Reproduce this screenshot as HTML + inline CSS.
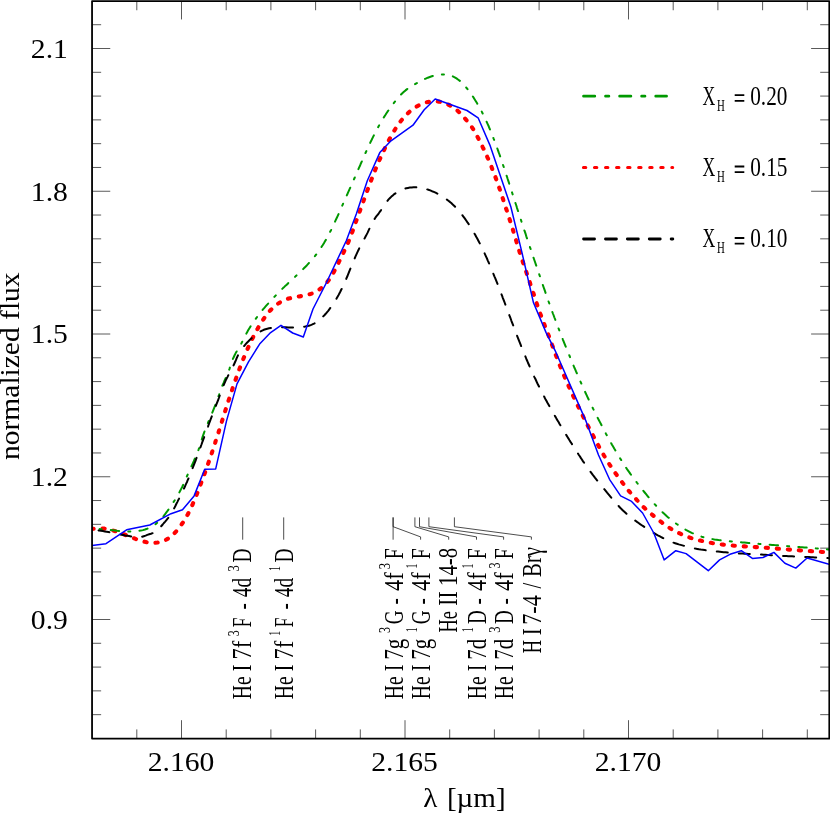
<!DOCTYPE html>
<html><head><meta charset="utf-8"><title>He I / Br gamma line fit</title>
<style>html,body{margin:0;padding:0;background:#fff;width:830px;height:814px;overflow:hidden;}svg{display:block;will-change:transform;}text{font-family:"Liberation Serif",serif;fill:#000;}</style></head><body>
<svg width="830" height="814" viewBox="0 0 830 814">
<rect x="0" y="0" width="830" height="814" fill="#fff"/>
<defs><clipPath id="plot"><rect x="92.05" y="1.05" width="737.25" height="737.55"/></clipPath></defs>
<path d="M136.80,738.60 v-9.20 M136.80,1.05 v9.20 M181.50,738.60 v-18.40 M181.50,1.05 v18.40 M226.20,738.60 v-9.20 M226.20,1.05 v9.20 M270.90,738.60 v-9.20 M270.90,1.05 v9.20 M315.60,738.60 v-9.20 M315.60,1.05 v9.20 M360.30,738.60 v-9.20 M360.30,1.05 v9.20 M405.00,738.60 v-18.40 M405.00,1.05 v18.40 M449.70,738.60 v-9.20 M449.70,1.05 v9.20 M494.40,738.60 v-9.20 M494.40,1.05 v9.20 M539.10,738.60 v-9.20 M539.10,1.05 v9.20 M583.80,738.60 v-9.20 M583.80,1.05 v9.20 M628.50,738.60 v-18.40 M628.50,1.05 v18.40 M673.20,738.60 v-9.20 M673.20,1.05 v9.20 M717.90,738.60 v-9.20 M717.90,1.05 v9.20 M762.60,738.60 v-9.20 M762.60,1.05 v9.20 M807.30,738.60 v-9.20 M807.30,1.05 v9.20 M92.05,714.67 h9.10 M829.30,714.67 h-9.10 M92.05,690.87 h9.10 M829.30,690.87 h-9.10 M92.05,667.08 h9.10 M829.30,667.08 h-9.10 M92.05,643.29 h9.10 M829.30,643.29 h-9.10 M92.05,619.50 h18.20 M829.30,619.50 h-18.20 M92.05,595.71 h9.10 M829.30,595.71 h-9.10 M92.05,571.92 h9.10 M829.30,571.92 h-9.10 M92.05,548.13 h9.10 M829.30,548.13 h-9.10 M92.05,524.33 h9.10 M829.30,524.33 h-9.10 M92.05,500.54 h9.10 M829.30,500.54 h-9.10 M92.05,476.75 h18.20 M829.30,476.75 h-18.20 M92.05,452.96 h9.10 M829.30,452.96 h-9.10 M92.05,429.17 h9.10 M829.30,429.17 h-9.10 M92.05,405.38 h9.10 M829.30,405.38 h-9.10 M92.05,381.59 h9.10 M829.30,381.59 h-9.10 M92.05,357.79 h9.10 M829.30,357.79 h-9.10 M92.05,334.00 h18.20 M829.30,334.00 h-18.20 M92.05,310.21 h9.10 M829.30,310.21 h-9.10 M92.05,286.42 h9.10 M829.30,286.42 h-9.10 M92.05,262.63 h9.10 M829.30,262.63 h-9.10 M92.05,238.84 h9.10 M829.30,238.84 h-9.10 M92.05,215.04 h9.10 M829.30,215.04 h-9.10 M92.05,191.25 h18.20 M829.30,191.25 h-18.20 M92.05,167.46 h9.10 M829.30,167.46 h-9.10 M92.05,143.67 h9.10 M829.30,143.67 h-9.10 M92.05,119.88 h9.10 M829.30,119.88 h-9.10 M92.05,96.09 h9.10 M829.30,96.09 h-9.10 M92.05,72.30 h9.10 M829.30,72.30 h-9.10 M92.05,48.50 h18.20 M829.30,48.50 h-18.20 M92.05,24.71 h9.10 M829.30,24.71 h-9.10" stroke="#000" stroke-width="0.65" fill="none"/>
<g clip-path="url(#plot)" fill="none" stroke-linejoin="round">
<path d="M91.5,529.1 L93.6,528.7 L95.7,528.4 L97.8,528.3 L99.9,528.3 L102.0,528.4 L104.2,528.6 L106.3,529.0 L108.4,529.4 L110.5,529.9 L112.5,530.4 L114.6,531.0 L116.6,531.6 L118.6,532.3 L120.6,533.0 L122.6,533.8 L124.5,534.5 L126.5,535.3 L128.4,536.1 L130.4,536.9 L132.4,537.7 L134.4,538.4 L136.4,539.2 L138.5,539.9 L140.5,540.6 L142.6,541.2 L144.7,541.7 L146.8,542.2 L149.0,542.5 L151.1,542.7 L153.2,542.8 L155.4,542.7 L157.5,542.5 L159.6,542.1 L161.7,541.6 L163.8,540.8 L165.7,539.9 L167.6,538.9 L169.4,537.7 L171.1,536.4 L172.7,534.9 L174.2,533.4 L175.7,531.9 L177.1,530.3 L178.5,528.6 L179.8,527.0 L181.0,525.3 L182.2,523.5 L183.4,521.8 L184.5,520.0 L185.6,518.2 L186.7,516.3 L187.7,514.5 L188.7,512.6 L189.6,510.7 L190.6,508.8 L191.5,506.8 L192.4,504.9 L193.2,502.9 L194.1,500.9 L194.9,499.0 L195.7,497.0 L196.5,495.0 L197.3,493.0 L198.1,491.0 L198.8,489.0 L199.6,487.0 L200.4,485.0 L201.1,483.0 L201.9,481.0 L202.6,479.0 L203.4,477.0 L204.1,475.0 L204.8,473.0 L205.6,471.0 L206.3,468.9 L207.0,466.9 L207.7,464.9 L208.4,462.9 L209.1,460.9 L209.8,458.9 L210.5,456.8 L211.2,454.8 L211.9,452.8 L212.5,450.8 L213.2,448.7 L213.9,446.7 L214.5,444.7 L215.2,442.6 L215.8,440.6 L216.5,438.6 L217.2,436.5 L217.8,434.5 L218.5,432.5 L219.1,430.4 L219.7,428.4 L220.4,426.3 L221.0,424.3 L221.7,422.3 L222.3,420.2 L223.0,418.2 L223.6,416.2 L224.2,414.1 L224.9,412.1 L225.5,410.0 L226.2,408.0 L226.8,406.0 L227.5,403.9 L228.1,401.9 L228.8,399.9 L229.5,397.8 L230.1,395.8 L230.8,393.8 L231.5,391.8 L232.1,389.8 L232.8,387.7 L233.5,385.7 L234.2,383.7 L234.9,381.7 L235.6,379.7 L236.3,377.7 L237.0,375.7 L237.7,373.7 L238.5,371.7 L239.2,369.7 L239.9,367.7 L240.7,365.7 L241.5,363.7 L242.2,361.7 L243.0,359.8 L243.8,357.8 L244.6,355.8 L245.4,353.9 L246.3,351.9 L247.1,349.9 L248.0,348.0 L248.8,346.1 L249.7,344.1 L250.6,342.2 L251.6,340.2 L252.5,338.3 L253.5,336.4 L254.5,334.5 L255.5,332.6 L256.5,330.7 L257.6,328.8 L258.6,326.9 L259.8,325.0 L260.9,323.2 L262.1,321.3 L263.3,319.5 L264.5,317.7 L265.8,316.0 L267.1,314.3 L268.4,312.6 L269.8,311.0 L271.2,309.5 L272.7,308.0 L274.3,306.6 L275.9,305.3 L277.5,304.0 L279.2,302.9 L281.0,301.8 L282.8,300.8 L284.7,299.9 L286.6,299.2 L288.6,298.5 L290.7,298.0 L292.8,297.5 L295.0,297.1 L297.2,296.7 L299.4,296.4 L301.6,296.0 L303.8,295.7 L306.0,295.2 L308.1,294.7 L310.2,294.1 L312.3,293.4 L314.2,292.6 L316.1,291.6 L317.9,290.5 L319.7,289.3 L321.3,288.0 L322.9,286.6 L324.5,285.2 L325.9,283.6 L327.3,282.0 L328.6,280.3 L329.9,278.6 L331.0,276.8 L332.1,275.0 L333.2,273.2 L334.2,271.3 L335.2,269.4 L336.2,267.5 L337.1,265.6 L338.1,263.6 L339.0,261.7 L339.9,259.8 L340.9,257.8 L341.8,255.9 L342.8,254.0 L343.7,252.1 L344.6,250.1 L345.5,248.2 L346.4,246.3 L347.3,244.3 L348.2,242.4 L349.0,240.4 L349.8,238.4 L350.6,236.4 L351.3,234.5 L352.1,232.5 L352.8,230.5 L353.6,228.5 L354.3,226.4 L355.0,224.4 L355.7,222.4 L356.4,220.4 L357.2,218.4 L357.9,216.4 L358.6,214.4 L359.3,212.4 L360.1,210.4 L360.8,208.4 L361.5,206.4 L362.3,204.4 L363.0,202.4 L363.7,200.3 L364.5,198.3 L365.2,196.3 L366.0,194.3 L366.7,192.2 L367.4,190.2 L368.2,188.2 L368.9,186.2 L369.7,184.2 L370.4,182.2 L371.2,180.2 L372.0,178.2 L372.7,176.2 L373.5,174.2 L374.3,172.2 L375.1,170.3 L375.9,168.3 L376.7,166.4 L377.6,164.4 L378.4,162.5 L379.2,160.5 L380.1,158.6 L381.0,156.6 L381.9,154.7 L382.8,152.7 L383.7,150.8 L384.6,148.8 L385.5,146.9 L386.5,145.0 L387.4,143.1 L388.4,141.2 L389.4,139.3 L390.4,137.4 L391.4,135.5 L392.5,133.6 L393.6,131.8 L394.7,130.0 L395.8,128.2 L396.9,126.4 L398.1,124.7 L399.4,122.9 L400.7,121.2 L402.0,119.6 L403.4,117.9 L404.8,116.3 L406.3,114.8 L407.9,113.3 L409.5,111.8 L411.1,110.4 L412.8,109.1 L414.5,107.9 L416.3,106.8 L418.1,105.7 L420.0,104.8 L421.9,103.9 L423.9,103.2 L425.9,102.5 L428.0,102.0 L430.1,101.7 L432.2,101.4 L434.4,101.3 L436.6,101.4 L438.7,101.6 L440.8,102.0 L442.9,102.5 L445.0,103.1 L447.0,103.9 L448.9,104.9 L450.8,105.9 L452.7,107.0 L454.4,108.2 L456.1,109.5 L457.8,110.9 L459.3,112.3 L460.8,113.8 L462.2,115.3 L463.6,116.9 L465.0,118.5 L466.4,120.1 L467.8,121.8 L469.2,123.5 L470.5,125.2 L471.8,127.0 L473.0,128.8 L474.1,130.6 L475.1,132.4 L476.1,134.3 L477.1,136.1 L478.1,138.0 L479.1,139.9 L480.0,141.8 L481.0,143.7 L482.0,145.6 L482.9,147.6 L483.9,149.5 L484.8,151.4 L485.7,153.4 L486.6,155.3 L487.4,157.3 L488.3,159.2 L489.1,161.2 L489.9,163.1 L490.8,165.1 L491.6,167.1 L492.3,169.1 L493.1,171.0 L493.9,173.0 L494.6,175.0 L495.4,177.0 L496.1,179.0 L496.8,181.0 L497.6,183.0 L498.3,185.1 L499.0,187.1 L499.7,189.1 L500.4,191.2 L501.0,193.2 L501.7,195.2 L502.4,197.3 L503.1,199.3 L503.7,201.4 L504.4,203.4 L505.1,205.5 L505.7,207.5 L506.4,209.5 L507.1,211.5 L507.7,213.6 L508.4,215.6 L509.0,217.6 L509.7,219.6 L510.3,221.6 L511.0,223.6 L511.6,225.7 L512.3,227.7 L512.9,229.7 L513.5,231.8 L514.2,233.8 L514.8,235.9 L515.4,237.9 L516.0,240.0 L516.6,242.1 L517.2,244.1 L517.8,246.2 L518.5,248.3 L519.1,250.3 L519.7,252.4 L520.4,254.4 L521.0,256.4 L521.7,258.5 L522.4,260.5 L523.0,262.5 L523.7,264.5 L524.4,266.5 L525.1,268.5 L525.8,270.6 L526.5,272.6 L527.1,274.6 L527.8,276.6 L528.5,278.6 L529.2,280.6 L529.9,282.6 L530.5,284.7 L531.2,286.7 L531.9,288.7 L532.6,290.7 L533.2,292.8 L533.9,294.8 L534.6,296.8 L535.2,298.9 L535.9,300.9 L536.6,302.9 L537.2,305.0 L537.9,307.0 L538.6,309.0 L539.3,311.0 L540.0,313.1 L540.8,315.1 L541.5,317.1 L542.3,319.1 L543.0,321.1 L543.8,323.1 L544.6,325.1 L545.3,327.1 L546.1,329.1 L546.9,331.1 L547.6,333.0 L548.4,335.0 L549.2,337.0 L549.9,339.0 L550.6,341.0 L551.4,343.0 L552.1,345.0 L552.9,347.0 L553.6,349.0 L554.3,351.0 L555.1,353.0 L555.8,355.0 L556.6,357.0 L557.3,359.0 L558.1,361.0 L558.9,363.0 L559.7,365.0 L560.5,367.0 L561.3,368.9 L562.1,370.9 L562.9,372.9 L563.8,374.9 L564.6,376.8 L565.5,378.8 L566.3,380.8 L567.2,382.7 L568.1,384.7 L568.9,386.7 L569.8,388.6 L570.7,390.6 L571.6,392.5 L572.5,394.4 L573.4,396.4 L574.3,398.3 L575.2,400.2 L576.1,402.2 L577.0,404.1 L578.0,406.0 L578.9,407.9 L579.8,409.8 L580.8,411.7 L581.7,413.6 L582.7,415.5 L583.6,417.5 L584.6,419.4 L585.6,421.3 L586.5,423.2 L587.5,425.1 L588.5,427.0 L589.5,428.9 L590.5,430.8 L591.5,432.7 L592.5,434.6 L593.5,436.5 L594.5,438.4 L595.5,440.3 L596.5,442.1 L597.5,444.0 L598.5,445.9 L599.6,447.8 L600.6,449.6 L601.7,451.5 L602.8,453.3 L603.8,455.2 L604.9,457.0 L606.0,458.8 L607.2,460.7 L608.3,462.5 L609.4,464.3 L610.6,466.1 L611.8,467.8 L613.0,469.6 L614.2,471.4 L615.4,473.1 L616.7,474.9 L617.9,476.6 L619.2,478.3 L620.5,480.0 L621.8,481.7 L623.0,483.4 L624.3,485.1 L625.6,486.8 L626.8,488.5 L628.1,490.1 L629.5,491.7 L630.9,493.3 L632.4,494.9 L633.8,496.5 L635.3,498.1 L636.7,499.8 L638.1,501.4 L639.5,503.0 L641.0,504.6 L642.5,506.1 L644.1,507.6 L645.6,509.0 L647.2,510.5 L648.8,511.9 L650.4,513.2 L652.1,514.6 L653.7,516.0 L655.4,517.4 L657.0,518.7 L658.7,520.1 L660.4,521.4 L662.1,522.7 L663.8,524.0 L665.5,525.2 L667.3,526.5 L669.1,527.6 L670.9,528.8 L672.7,529.9 L674.6,530.9 L676.4,531.9 L678.3,532.8 L680.3,533.7 L682.2,534.6 L684.1,535.4 L686.1,536.2 L688.1,537.0 L690.1,537.7 L692.1,538.3 L694.1,539.0 L696.2,539.6 L698.2,540.1 L700.3,540.6 L702.4,541.1 L704.5,541.6 L706.6,542.1 L708.7,542.5 L710.8,542.8 L712.9,543.2 L715.0,543.5 L717.1,543.8 L719.2,544.1 L721.3,544.4 L723.4,544.6 L725.6,544.9 L727.7,545.1 L729.8,545.3 L731.9,545.5 L734.1,545.7 L736.2,545.8 L738.3,546.0 L740.5,546.1 L742.6,546.3 L744.7,546.4 L746.9,546.5 L749.0,546.7 L751.1,546.8 L753.3,546.9 L755.4,547.1 L757.5,547.2 L759.7,547.3 L761.8,547.5 L763.9,547.6 L766.0,547.8 L768.2,547.9 L770.3,548.1 L772.4,548.3 L774.5,548.4 L776.7,548.6 L778.8,548.8 L780.9,548.9 L783.1,549.1 L785.2,549.2 L787.3,549.4 L789.5,549.6 L791.6,549.7 L793.7,549.9 L795.9,550.1 L798.0,550.2 L800.2,550.4 L802.3,550.5 L804.5,550.7 L806.6,550.8 L808.8,551.0 L810.9,551.1 L813.1,551.3 L815.2,551.4 L817.4,551.6 L819.5,551.7 L821.6,551.9 L823.7,552.0 L825.8,552.2 L827.9,552.3 L829.9,552.5" stroke="#ff0000" stroke-width="4.1" stroke-dasharray="2.2 8.852" stroke-dashoffset="0.04" stroke-linecap="round"/>
<path d="M91.5,528.7 L93.6,528.7 L95.8,528.8 L97.9,528.9 L100.0,529.1 L102.1,529.2 L104.3,529.4 L106.4,529.6 L108.6,529.9 L110.7,530.1 L112.8,530.3 L115.0,530.5 L117.1,530.8 L119.3,531.0 L121.4,531.1 L123.6,531.3 L125.8,531.4 L127.9,531.5 L130.1,531.5 L132.2,531.5 L134.4,531.4 L136.5,531.3 L138.7,531.0 L140.8,530.6 L142.9,530.1 L145.0,529.5 L147.1,528.8 L149.1,528.0 L151.0,527.0 L152.9,526.0 L154.7,524.8 L156.4,523.5 L158.0,522.1 L159.6,520.6 L161.0,519.1 L162.5,517.4 L163.8,515.8 L165.1,514.1 L166.4,512.3 L167.7,510.6 L169.0,508.8 L170.2,507.1 L171.4,505.3 L172.6,503.6 L173.7,501.8 L174.9,500.0 L176.0,498.2 L177.1,496.4 L178.2,494.5 L179.2,492.7 L180.2,490.8 L181.2,488.9 L182.2,487.0 L183.1,485.0 L184.0,483.1 L184.9,481.1 L185.8,479.1 L186.6,477.0 L187.5,475.0 L188.4,473.0 L189.3,471.0 L190.2,469.1 L191.1,467.1 L192.0,465.1 L192.9,463.2 L193.8,461.2 L194.6,459.2 L195.5,457.2 L196.3,455.3 L197.1,453.3 L197.9,451.3 L198.7,449.3 L199.4,447.2 L200.0,445.2 L200.7,443.1 L201.3,441.0 L201.9,439.0 L202.6,436.9 L203.3,434.9 L204.0,432.9 L204.7,430.9 L205.5,428.9 L206.3,426.9 L207.1,424.9 L207.9,423.0 L208.7,421.0 L209.6,419.0 L210.4,417.1 L211.3,415.1 L212.1,413.1 L212.9,411.2 L213.7,409.2 L214.5,407.2 L215.3,405.2 L216.1,403.1 L216.8,401.1 L217.5,399.0 L218.2,397.0 L219.0,394.9 L219.7,392.8 L220.4,390.8 L221.2,388.8 L221.9,386.8 L222.7,384.8 L223.6,382.8 L224.4,380.9 L225.3,378.9 L226.2,377.0 L227.0,375.1 L227.8,373.1 L228.6,371.2 L229.4,369.1 L230.0,367.1 L230.7,365.0 L231.4,362.9 L232.2,360.9 L232.9,358.9 L233.8,357.0 L234.7,355.0 L235.7,353.1 L236.8,351.2 L237.9,349.3 L239.0,347.4 L240.1,345.6 L241.2,343.7 L242.2,341.8 L243.2,339.9 L244.1,338.0 L245.1,336.1 L246.0,334.3 L247.0,332.4 L248.0,330.6 L249.1,328.7 L250.2,326.9 L251.4,325.1 L252.6,323.2 L253.8,321.5 L255.1,319.7 L256.4,317.9 L257.7,316.2 L259.0,314.5 L260.3,312.8 L261.7,311.1 L263.0,309.4 L264.4,307.8 L265.8,306.2 L267.2,304.6 L268.7,303.0 L270.1,301.4 L271.5,299.8 L273.0,298.3 L274.5,296.7 L276.0,295.2 L277.5,293.6 L279.0,292.1 L280.5,290.6 L282.0,289.1 L283.6,287.6 L285.1,286.1 L286.7,284.7 L288.2,283.2 L289.8,281.7 L291.4,280.2 L293.0,278.7 L294.6,277.3 L296.1,275.8 L297.7,274.3 L299.3,272.8 L300.8,271.3 L302.4,269.8 L303.9,268.3 L305.5,266.7 L307.0,265.2 L308.4,263.6 L309.9,262.0 L311.3,260.4 L312.7,258.8 L314.1,257.2 L315.4,255.5 L316.8,253.8 L318.0,252.1 L319.3,250.4 L320.5,248.6 L321.6,246.8 L322.8,245.0 L323.9,243.2 L325.0,241.3 L326.1,239.5 L327.1,237.6 L328.1,235.7 L329.1,233.8 L330.1,231.9 L331.1,230.0 L332.0,228.0 L333.0,226.1 L333.9,224.1 L334.8,222.2 L335.7,220.2 L336.6,218.3 L337.5,216.3 L338.4,214.4 L339.3,212.4 L340.1,210.5 L341.0,208.5 L341.9,206.5 L342.7,204.6 L343.6,202.6 L344.5,200.7 L345.3,198.7 L346.2,196.7 L347.1,194.8 L347.9,192.8 L348.8,190.8 L349.7,188.9 L350.6,186.9 L351.5,184.9 L352.3,182.9 L353.2,181.0 L354.1,179.0 L355.0,177.0 L355.9,175.0 L356.7,173.1 L357.6,171.1 L358.4,169.1 L359.3,167.1 L360.2,165.2 L361.0,163.2 L361.9,161.3 L362.7,159.3 L363.6,157.3 L364.5,155.4 L365.3,153.4 L366.2,151.5 L367.1,149.5 L368.0,147.6 L368.9,145.6 L369.8,143.7 L370.7,141.7 L371.7,139.8 L372.6,137.9 L373.6,135.9 L374.5,134.0 L375.5,132.1 L376.5,130.1 L377.6,128.2 L378.6,126.3 L379.7,124.4 L380.7,122.6 L381.8,120.7 L382.9,118.9 L384.0,117.1 L385.2,115.3 L386.3,113.5 L387.5,111.7 L388.7,110.0 L389.9,108.2 L391.2,106.5 L392.5,104.8 L393.8,103.1 L395.1,101.4 L396.5,99.7 L397.9,98.1 L399.3,96.4 L400.8,94.8 L402.3,93.3 L403.9,91.8 L405.5,90.4 L407.1,89.1 L408.9,87.8 L410.6,86.7 L412.4,85.6 L414.3,84.5 L416.2,83.5 L418.1,82.4 L420.0,81.4 L421.9,80.4 L423.8,79.5 L425.8,78.6 L427.8,77.7 L429.8,77.0 L431.8,76.3 L433.9,75.7 L436.0,75.2 L438.2,74.8 L440.3,74.6 L442.5,74.5 L444.6,74.5 L446.7,74.7 L448.8,75.1 L450.8,75.7 L452.8,76.4 L454.7,77.3 L456.5,78.4 L458.3,79.7 L460.0,81.0 L461.6,82.5 L463.2,84.0 L464.7,85.7 L466.1,87.4 L467.5,89.1 L468.9,90.8 L470.2,92.5 L471.4,94.3 L472.6,96.1 L473.8,97.9 L474.9,99.7 L476.0,101.5 L477.1,103.3 L478.2,105.2 L479.2,107.1 L480.3,108.9 L481.3,110.8 L482.3,112.7 L483.2,114.6 L484.2,116.6 L485.1,118.5 L486.0,120.4 L486.9,122.4 L487.8,124.4 L488.7,126.3 L489.5,128.3 L490.3,130.3 L491.2,132.3 L492.0,134.3 L492.8,136.3 L493.5,138.3 L494.3,140.3 L495.1,142.3 L495.8,144.3 L496.6,146.3 L497.3,148.4 L498.0,150.4 L498.7,152.4 L499.5,154.5 L500.2,156.5 L500.9,158.5 L501.5,160.5 L502.2,162.6 L502.9,164.6 L503.6,166.6 L504.3,168.7 L505.0,170.7 L505.6,172.7 L506.3,174.8 L507.0,176.8 L507.6,178.8 L508.3,180.9 L509.0,182.9 L509.6,185.0 L510.3,187.0 L510.9,189.1 L511.6,191.1 L512.3,193.2 L512.9,195.2 L513.6,197.3 L514.3,199.3 L514.9,201.4 L515.6,203.5 L516.3,205.5 L516.9,207.6 L517.6,209.7 L518.3,211.7 L518.9,213.8 L519.6,215.9 L520.3,217.9 L521.0,220.0 L521.6,222.0 L522.3,224.1 L523.0,226.1 L523.7,228.1 L524.3,230.2 L525.0,232.2 L525.7,234.2 L526.3,236.3 L527.0,238.3 L527.7,240.3 L528.4,242.3 L529.0,244.3 L529.7,246.4 L530.4,248.4 L531.1,250.4 L531.8,252.4 L532.4,254.4 L533.1,256.5 L533.8,258.5 L534.5,260.5 L535.2,262.5 L535.9,264.6 L536.6,266.6 L537.3,268.7 L538.0,270.7 L538.7,272.8 L539.4,274.8 L540.1,276.9 L540.8,278.9 L541.5,281.0 L542.2,283.1 L542.9,285.1 L543.6,287.2 L544.3,289.2 L545.0,291.2 L545.7,293.3 L546.4,295.3 L547.1,297.3 L547.8,299.4 L548.5,301.4 L549.3,303.4 L550.0,305.4 L550.7,307.4 L551.4,309.5 L552.2,311.5 L552.9,313.5 L553.7,315.5 L554.4,317.5 L555.2,319.5 L555.9,321.5 L556.7,323.6 L557.5,325.6 L558.2,327.6 L559.0,329.6 L559.8,331.6 L560.6,333.6 L561.4,335.6 L562.2,337.6 L562.9,339.6 L563.7,341.6 L564.5,343.6 L565.3,345.6 L566.1,347.6 L566.9,349.6 L567.7,351.6 L568.6,353.6 L569.4,355.5 L570.2,357.5 L571.0,359.5 L571.8,361.5 L572.7,363.5 L573.5,365.5 L574.3,367.5 L575.2,369.4 L576.0,371.4 L576.9,373.4 L577.7,375.4 L578.6,377.3 L579.4,379.3 L580.3,381.3 L581.2,383.2 L582.1,385.2 L582.9,387.1 L583.8,389.1 L584.7,391.0 L585.6,393.0 L586.5,394.9 L587.4,396.9 L588.3,398.8 L589.3,400.8 L590.2,402.7 L591.1,404.6 L592.1,406.6 L593.0,408.5 L594.0,410.4 L594.9,412.3 L595.9,414.3 L596.8,416.2 L597.8,418.1 L598.8,420.0 L599.8,421.9 L600.8,423.8 L601.8,425.7 L602.8,427.6 L603.8,429.5 L604.8,431.5 L605.8,433.4 L606.8,435.2 L607.9,437.1 L608.9,439.0 L609.9,440.9 L611.0,442.8 L612.0,444.7 L613.1,446.6 L614.2,448.5 L615.3,450.3 L616.4,452.2 L617.5,454.0 L618.6,455.9 L619.7,457.7 L620.9,459.6 L622.0,461.4 L623.2,463.2 L624.3,465.0 L625.5,466.8 L626.7,468.6 L627.9,470.3 L629.2,472.1 L630.4,473.9 L631.7,475.6 L632.9,477.3 L634.2,479.0 L635.5,480.7 L636.8,482.5 L638.1,484.2 L639.4,485.8 L640.7,487.5 L642.0,489.2 L643.4,490.9 L644.7,492.5 L646.1,494.2 L647.4,495.8 L648.8,497.5 L650.2,499.1 L651.6,500.7 L653.0,502.3 L654.4,503.9 L655.9,505.5 L657.3,507.0 L658.8,508.6 L660.4,510.1 L661.9,511.6 L663.4,513.1 L665.0,514.5 L666.6,516.0 L668.2,517.4 L669.9,518.8 L671.6,520.1 L673.3,521.4 L675.0,522.7 L676.7,524.0 L678.5,525.2 L680.3,526.4 L682.1,527.6 L684.0,528.7 L685.9,529.8 L687.8,530.8 L689.7,531.8 L691.7,532.8 L693.6,533.6 L695.7,534.5 L697.7,535.3 L699.7,536.0 L701.8,536.7 L703.8,537.3 L705.9,537.8 L708.0,538.3 L710.1,538.7 L712.2,539.1 L714.4,539.5 L716.5,539.8 L718.6,540.1 L720.7,540.3 L722.9,540.6 L725.0,540.8 L727.2,541.0 L729.3,541.2 L731.5,541.4 L733.6,541.6 L735.7,541.8 L737.9,542.0 L740.0,542.2 L742.2,542.4 L744.3,542.6 L746.5,542.8 L748.6,543.0 L750.8,543.2 L752.9,543.3 L755.1,543.5 L757.2,543.7 L759.4,543.9 L761.5,544.0 L763.6,544.2 L765.8,544.4 L767.9,544.5 L770.1,544.7 L772.2,544.9 L774.4,545.1 L776.5,545.2 L778.6,545.4 L780.8,545.6 L782.9,545.7 L785.1,545.9 L787.2,546.1 L789.3,546.2 L791.5,546.4 L793.6,546.6 L795.8,546.7 L797.9,546.9 L800.0,547.1 L802.2,547.2 L804.3,547.4 L806.5,547.6 L808.6,547.7 L810.7,547.9 L812.9,548.1 L815.0,548.3 L817.1,548.5 L819.3,548.6 L821.4,548.8 L823.6,549.0 L825.7,549.2 L827.8,549.4 L830.0,549.6" stroke="#009900" stroke-width="2" stroke-dasharray="8.4 9.1375 2.1 9.1375" stroke-dashoffset="9.43" stroke-linecap="round"/>
<path d="M91.5,529.6 L93.4,529.8 L95.3,530.1 L97.2,530.3 L99.1,530.6 L101.0,530.8 L102.9,531.1 L104.8,531.4 L106.7,531.7 L108.5,532.0 L110.4,532.4 L112.2,532.8 L114.1,533.1 L115.9,533.6 L117.7,534.0 L119.6,534.4 L121.4,534.7 L123.3,535.1 L125.2,535.5 L127.1,535.8 L129.1,536.1 L131.0,536.4 L132.9,536.8 L134.8,537.0 L136.6,537.2 L138.5,537.3 L140.3,537.1 L142.0,536.8 L143.8,536.2 L145.6,535.6 L147.3,534.9 L149.2,534.3 L151.0,533.8 L152.8,533.1 L154.5,532.2 L156.0,531.2 L157.5,530.1 L158.8,528.8 L160.2,527.4 L161.4,526.0 L162.7,524.5 L163.9,523.0 L165.2,521.6 L166.4,520.2 L167.6,518.7 L168.8,517.2 L169.9,515.6 L170.9,514.0 L171.9,512.4 L172.8,510.7 L173.8,509.0 L174.7,507.3 L175.6,505.5 L176.4,503.8 L177.3,502.1 L178.1,500.4 L179.0,498.7 L179.8,497.0 L180.7,495.3 L181.5,493.6 L182.3,491.9 L183.2,490.2 L184.0,488.5 L184.8,486.8 L185.5,485.1 L186.3,483.4 L187.1,481.7 L187.8,479.9 L188.6,478.2 L189.3,476.4 L190.0,474.7 L190.7,472.9 L191.4,471.2 L192.1,469.4 L192.8,467.7 L193.5,465.9 L194.2,464.1 L194.9,462.4 L195.6,460.6 L196.2,458.8 L196.9,457.0 L197.6,455.2 L198.2,453.5 L198.9,451.7 L199.5,449.9 L200.2,448.1 L200.8,446.3 L201.5,444.5 L202.1,442.7 L202.8,440.9 L203.4,439.1 L204.1,437.3 L204.7,435.5 L205.4,433.7 L206.0,431.9 L206.7,430.1 L207.3,428.4 L208.0,426.6 L208.6,424.8 L209.3,423.0 L210.0,421.2 L210.6,419.4 L211.3,417.6 L212.0,415.8 L212.7,414.0 L213.4,412.3 L214.1,410.5 L214.8,408.7 L215.5,406.9 L216.1,405.1 L216.8,403.4 L217.5,401.6 L218.2,399.8 L218.9,398.0 L219.5,396.2 L220.2,394.4 L220.8,392.6 L221.5,390.9 L222.2,389.1 L222.8,387.3 L223.5,385.6 L224.2,383.8 L225.0,382.1 L225.7,380.4 L226.5,378.8 L227.4,377.1 L228.2,375.4 L229.1,373.8 L230.0,372.1 L230.9,370.4 L231.8,368.7 L232.7,367.0 L233.6,365.3 L234.4,363.5 L235.2,361.8 L236.0,359.9 L236.7,358.1 L237.5,356.3 L238.3,354.6 L239.2,353.0 L240.2,351.3 L241.2,349.8 L242.3,348.3 L243.5,346.8 L244.7,345.3 L245.9,343.9 L247.2,342.5 L248.5,341.2 L249.9,339.8 L251.3,338.5 L252.8,337.2 L254.2,335.9 L255.7,334.7 L257.3,333.5 L258.8,332.4 L260.5,331.4 L262.1,330.6 L263.8,329.8 L265.5,329.2 L267.3,328.7 L269.1,328.3 L270.9,327.9 L272.8,327.7 L274.7,327.5 L276.6,327.4 L278.5,327.3 L280.4,327.3 L282.3,327.3 L284.3,327.3 L286.2,327.3 L288.2,327.4 L290.1,327.4 L292.1,327.4 L294.0,327.4 L295.9,327.4 L297.9,327.3 L299.8,327.2 L301.7,327.1 L303.5,326.8 L305.4,326.5 L307.2,326.1 L308.9,325.7 L310.7,325.1 L312.4,324.4 L314.0,323.6 L315.7,322.7 L317.2,321.7 L318.7,320.5 L320.2,319.3 L321.6,318.0 L323.0,316.6 L324.4,315.2 L325.7,313.8 L326.9,312.3 L328.2,310.8 L329.3,309.3 L330.5,307.7 L331.6,306.2 L332.7,304.6 L333.8,303.0 L334.8,301.4 L335.8,299.8 L336.7,298.2 L337.7,296.5 L338.6,294.9 L339.5,293.2 L340.4,291.5 L341.2,289.8 L342.1,288.1 L342.9,286.4 L343.7,284.7 L344.5,282.9 L345.2,281.2 L346.0,279.5 L346.7,277.7 L347.5,276.0 L348.2,274.2 L348.9,272.4 L349.6,270.7 L350.3,268.9 L351.1,267.2 L351.8,265.4 L352.5,263.6 L353.2,261.9 L353.9,260.1 L354.7,258.4 L355.4,256.6 L356.2,254.9 L357.0,253.1 L357.8,251.4 L358.6,249.7 L359.4,248.0 L360.3,246.3 L361.1,244.6 L362.0,242.9 L362.9,241.3 L363.9,239.6 L364.8,238.0 L365.7,236.3 L366.6,234.6 L367.5,232.9 L368.3,231.1 L369.1,229.4 L369.9,227.6 L370.8,225.9 L371.6,224.2 L372.5,222.5 L373.4,220.8 L374.4,219.2 L375.4,217.7 L376.5,216.2 L377.6,214.8 L378.8,213.3 L379.8,211.8 L380.9,210.3 L381.9,208.7 L382.9,207.1 L384.0,205.5 L385.1,203.9 L386.2,202.4 L387.4,200.9 L388.6,199.4 L390.0,198.0 L391.4,196.6 L392.8,195.4 L394.3,194.1 L395.9,193.0 L397.5,192.0 L399.2,191.0 L400.9,190.2 L402.6,189.4 L404.4,188.8 L406.2,188.3 L408.0,187.9 L409.8,187.6 L411.7,187.4 L413.5,187.3 L415.4,187.3 L417.3,187.4 L419.1,187.6 L421.0,187.9 L422.9,188.3 L424.7,188.7 L426.6,189.2 L428.4,189.8 L430.2,190.4 L432.0,191.2 L433.8,191.9 L435.6,192.7 L437.3,193.6 L439.0,194.5 L440.7,195.4 L442.3,196.4 L443.9,197.4 L445.4,198.5 L446.9,199.6 L448.4,200.7 L449.9,201.9 L451.3,203.1 L452.7,204.4 L454.1,205.7 L455.4,207.1 L456.7,208.4 L458.0,209.9 L459.3,211.3 L460.5,212.8 L461.7,214.3 L462.8,215.8 L464.0,217.4 L465.1,218.9 L466.2,220.5 L467.3,222.1 L468.4,223.6 L469.4,225.2 L470.5,226.8 L471.5,228.5 L472.4,230.1 L473.4,231.7 L474.4,233.4 L475.3,235.0 L476.2,236.7 L477.1,238.3 L478.0,240.0 L478.9,241.7 L479.8,243.4 L480.6,245.1 L481.5,246.8 L482.3,248.5 L483.1,250.2 L483.9,251.9 L484.7,253.6 L485.5,255.4 L486.3,257.1 L487.1,258.8 L487.8,260.6 L488.6,262.3 L489.3,264.0 L490.1,265.8 L490.8,267.5 L491.6,269.3 L492.3,271.1 L493.0,272.8 L493.7,274.6 L494.4,276.3 L495.2,278.1 L495.9,279.9 L496.6,281.6 L497.3,283.4 L498.0,285.2 L498.6,286.9 L499.3,288.7 L500.0,290.5 L500.7,292.3 L501.4,294.1 L502.1,295.8 L502.7,297.6 L503.4,299.4 L504.1,301.2 L504.8,303.0 L505.4,304.7 L506.1,306.5 L506.8,308.3 L507.4,310.1 L508.1,311.9 L508.8,313.7 L509.4,315.4 L510.1,317.2 L510.8,319.0 L511.4,320.8 L512.1,322.6 L512.8,324.4 L513.5,326.1 L514.1,327.9 L514.8,329.7 L515.5,331.5 L516.2,333.3 L516.8,335.0 L517.5,336.8 L518.2,338.6 L518.9,340.4 L519.6,342.1 L520.3,343.9 L521.0,345.7 L521.7,347.4 L522.4,349.2 L523.1,351.0 L523.8,352.7 L524.6,354.5 L525.3,356.2 L526.0,358.0 L526.7,359.8 L527.5,361.5 L528.2,363.3 L529.0,365.0 L529.7,366.7 L530.5,368.5 L531.3,370.2 L532.1,371.9 L532.9,373.7 L533.6,375.4 L534.4,377.1 L535.3,378.8 L536.1,380.5 L536.9,382.3 L537.7,384.0 L538.6,385.7 L539.4,387.4 L540.3,389.1 L541.1,390.8 L542.0,392.4 L542.9,394.1 L543.8,395.8 L544.6,397.5 L545.5,399.2 L546.4,400.8 L547.3,402.5 L548.3,404.2 L549.2,405.8 L550.1,407.5 L551.0,409.2 L552.0,410.8 L552.9,412.5 L553.9,414.1 L554.8,415.8 L555.8,417.4 L556.7,419.1 L557.7,420.7 L558.7,422.3 L559.6,424.0 L560.6,425.6 L561.6,427.3 L562.6,428.9 L563.6,430.5 L564.5,432.1 L565.5,433.8 L566.5,435.4 L567.5,437.0 L568.5,438.6 L569.5,440.3 L570.5,441.9 L571.6,443.5 L572.6,445.1 L573.6,446.7 L574.6,448.3 L575.6,449.9 L576.6,451.5 L577.7,453.1 L578.7,454.7 L579.8,456.3 L580.8,457.9 L581.9,459.5 L582.9,461.1 L584.0,462.6 L585.1,464.2 L586.1,465.7 L587.2,467.3 L588.3,468.8 L589.4,470.4 L590.6,471.9 L591.7,473.4 L592.8,474.9 L594.0,476.4 L595.1,477.9 L596.3,479.4 L597.5,480.9 L598.7,482.4 L599.8,483.9 L601.0,485.3 L602.3,486.8 L603.5,488.3 L604.7,489.7 L605.9,491.2 L607.1,492.7 L608.3,494.1 L609.6,495.6 L610.8,497.1 L612.0,498.6 L613.3,500.1 L614.5,501.5 L615.8,503.0 L617.1,504.4 L618.4,505.8 L619.7,507.2 L621.0,508.6 L622.4,509.9 L623.8,511.2 L625.2,512.5 L626.6,513.8 L628.0,515.0 L629.5,516.2 L631.0,517.4 L632.5,518.5 L634.0,519.7 L635.5,520.8 L637.0,521.9 L638.6,523.0 L640.1,524.1 L641.7,525.2 L643.2,526.2 L644.8,527.3 L646.4,528.3 L648.0,529.4 L649.6,530.4 L651.2,531.4 L652.8,532.4 L654.5,533.4 L656.1,534.3 L657.8,535.3 L659.5,536.2 L661.2,537.1 L662.9,538.0 L664.6,538.8 L666.3,539.6 L668.0,540.4 L669.8,541.2 L671.6,541.9 L673.3,542.6 L675.1,543.2 L676.9,543.8 L678.7,544.4 L680.6,544.9 L682.4,545.4 L684.2,545.9 L686.0,546.4 L687.9,546.9 L689.7,547.3 L691.6,547.8 L693.4,548.2 L695.3,548.6 L697.2,548.9 L699.1,549.3 L700.9,549.6 L702.8,549.8 L704.7,550.1 L706.6,550.4 L708.5,550.6 L710.4,550.8 L712.3,551.0 L714.2,551.2 L716.1,551.4 L718.0,551.6 L719.9,551.8 L721.8,552.0 L723.7,552.2 L725.6,552.3 L727.5,552.5 L729.4,552.7 L731.3,552.8 L733.2,553.0 L735.1,553.1 L737.0,553.3 L738.9,553.4 L740.8,553.5 L742.7,553.6 L744.6,553.7 L746.4,553.8 L748.3,553.9 L750.2,554.0 L752.1,554.1 L754.0,554.2 L755.9,554.3 L757.8,554.4 L759.7,554.5 L761.6,554.6 L763.5,554.7 L765.4,554.8 L767.3,555.0 L769.2,555.1 L771.1,555.2 L773.0,555.3 L774.9,555.4 L776.9,555.5 L778.8,555.6 L780.7,555.7 L782.6,555.9 L784.5,556.0 L786.4,556.1 L788.3,556.2 L790.2,556.2 L792.1,556.3 L794.0,556.4 L795.9,556.5 L797.8,556.6 L799.7,556.7 L801.6,556.8 L803.4,556.8 L805.3,556.9 L807.2,557.0 L809.1,557.1 L811.0,557.2 L812.9,557.3 L814.8,557.4 L816.7,557.4 L818.6,557.5 L820.5,557.6 L822.4,557.7 L824.3,557.8 L826.2,557.9 L828.1,558.1 L830.0,558.2" stroke="#000" stroke-width="2" stroke-dasharray="11 11.15" stroke-dashoffset="15.04" stroke-linecap="round"/>
<path d="M91.5,545.6 L106.0,543.7 L126.6,529.8 L149.8,525.0 L171.0,513.7 L182.5,509.8 L194.1,495.9 L204.7,469.3 L215.7,468.9 L226.4,421.4 L237.0,383.9 L248.5,361.8 L259.6,344.1 L270.6,332.6 L281.0,325.3 L292.7,333.0 L303.3,337.0 L313.0,309.0 L326.5,282.5 L346.4,240.5 L356.3,214.0 L367.3,180.8 L379.8,152.6 L391.0,140.8 L413.0,125.2 L424.2,109.7 L435.2,99.0 L467.0,110.5 L478.1,117.8 L489.9,145.1 L510.9,207.0 L521.8,251.9 L533.5,302.8 L546.1,332.6 L555.0,350.3 L586.3,421.9 L598.5,455.0 L609.5,479.3 L620.6,495.9 L631.6,501.4 L642.6,513.0 L653.8,533.0 L664.2,559.9 L675.8,550.7 L686.1,553.6 L708.3,570.7 L719.6,559.9 L730.0,554.3 L741.3,550.7 L752.4,558.4 L763.0,557.5 L773.9,552.4 L784.9,563.3 L795.8,568.1 L807.1,558.0 L830.0,564.5" stroke="#0000ff" stroke-width="1.5"/>
</g>
<rect x="92.05" y="1.05" width="737.25" height="737.55" fill="none" stroke="#000" stroke-width="1.8" stroke-linejoin="round"/>
<text transform="translate(30.87,628.80) scale(1.085,1)" font-size="27.3">0.9</text>
<text transform="translate(30.87,486.05) scale(1.085,1)" font-size="27.3">1.2</text>
<text transform="translate(30.87,343.30) scale(1.085,1)" font-size="27.3">1.5</text>
<text transform="translate(30.87,200.55) scale(1.085,1)" font-size="27.3">1.8</text>
<text transform="translate(30.87,57.80) scale(1.085,1)" font-size="27.3">2.1</text>
<text transform="translate(147.70,771.00) scale(1.085,1)" font-size="27.3">2.160</text>
<text transform="translate(371.24,771.00) scale(1.085,1)" font-size="27.3">2.165</text>
<text transform="translate(594.70,771.00) scale(1.085,1)" font-size="27.3">2.170</text>
<g transform="translate(19.1,459.3) rotate(-90)"><text transform="translate(-0.66,0.00) scale(1.081,1)" font-size="27.3">normalized flux</text></g>
<text transform="translate(423.27,807.40) scale(1.071,1)" font-size="27.3">λ</text>
<text transform="translate(446.92,807.40) scale(1.066,1)" font-size="27.3">[µm]</text>
<path d="M583.55,96.20 H666.55" stroke="#009900" stroke-width="2.8" stroke-dasharray="11.2 10.8 3.3 10.8" stroke-linecap="round" fill="none"/>
<text transform="translate(702.40,104.50) scale(0.649,1)" font-size="27.3">X</text>
<text transform="translate(717.00,110.50) scale(0.660,1)" font-size="16.4">H</text>
<path d="M734.7,95.20 H744.3 M734.7,100.80 H744.3" stroke="#000" stroke-width="1.8" fill="none"/>
<text transform="translate(750.20,104.50) scale(0.779,1)" font-size="27.3">0.20</text>
<path d="M583.40,167.50 H672.70" stroke="#ff0000" stroke-width="3.0" stroke-dasharray="2.4 8.65" stroke-linecap="round" fill="none"/>
<text transform="translate(702.40,175.80) scale(0.649,1)" font-size="27.3">X</text>
<text transform="translate(717.00,181.80) scale(0.660,1)" font-size="16.4">H</text>
<path d="M734.7,166.50 H744.3 M734.7,172.10 H744.3" stroke="#000" stroke-width="1.8" fill="none"/>
<text transform="translate(750.20,175.80) scale(0.779,1)" font-size="27.3">0.15</text>
<path d="M583.55,239.00 H672.85" stroke="#000" stroke-width="2.8" stroke-dasharray="11 10.9" stroke-linecap="round" fill="none"/>
<text transform="translate(702.40,247.30) scale(0.649,1)" font-size="27.3">X</text>
<text transform="translate(717.00,253.30) scale(0.660,1)" font-size="16.4">H</text>
<path d="M734.7,238.00 H744.3 M734.7,243.60 H744.3" stroke="#000" stroke-width="1.8" fill="none"/>
<text transform="translate(750.20,247.30) scale(0.779,1)" font-size="27.3">0.10</text>
<path d="M242.70,517.40 V539.70 M283.70,517.40 V539.70 M393.10,517.40 V539.70 M393.10,517.40 V526.70 L420.60,536.90 V539.70 M414.90,517.40 V526.70 L448.70,536.90 V539.70 M419.50,517.40 V526.70 L476.50,536.90 V539.70 M428.90,517.40 V526.70 L503.60,536.90 V539.70 M454.40,517.40 V526.70 L531.40,536.90 V539.70" stroke="#000" stroke-width="0.70" fill="none"/>
<g transform="translate(251.10,698.60) rotate(-90)"><text transform="translate(-0.54,0.00) scale(0.701,1)" font-size="27.9">He</text><text transform="translate(27.31,0.00) scale(0.710,1)" font-size="27.9">I</text><text transform="translate(39.13,0.00) scale(0.800,1)" font-size="27.9">7f</text><text transform="translate(62.34,-12.60) scale(0.724,1)" font-size="16.4">3</text><text transform="translate(71.43,0.00) scale(0.619,1)" font-size="27.9">F</text><text transform="translate(89.19,0.00) scale(0.675,1)" font-size="27.9">-</text><text transform="translate(101.31,0.00) scale(0.693,1)" font-size="27.9">4d</text><text transform="translate(127.00,-12.60) scale(0.769,1)" font-size="16.4">3</text><text transform="translate(136.16,0.00) scale(0.700,1)" font-size="27.9">D</text></g>
<g transform="translate(293.00,698.60) rotate(-90)"><text transform="translate(-0.54,0.00) scale(0.701,1)" font-size="27.9">He</text><text transform="translate(27.31,0.00) scale(0.710,1)" font-size="27.9">I</text><text transform="translate(39.13,0.00) scale(0.800,1)" font-size="27.9">7f</text><text transform="translate(62.90,-12.60) scale(0.600,1)" font-size="16.4">1</text><text transform="translate(71.43,0.00) scale(0.619,1)" font-size="27.9">F</text><text transform="translate(89.19,0.00) scale(0.675,1)" font-size="27.9">-</text><text transform="translate(101.31,0.00) scale(0.693,1)" font-size="27.9">4d</text><text transform="translate(127.50,-12.60) scale(0.600,1)" font-size="16.4">1</text><text transform="translate(136.16,0.00) scale(0.700,1)" font-size="27.9">D</text></g>
<g transform="translate(402.60,698.60) rotate(-90)"><text transform="translate(-0.54,0.00) scale(0.704,1)" font-size="27.9">He</text><text transform="translate(27.29,0.00) scale(0.724,1)" font-size="27.9">I</text><text transform="translate(38.84,0.00) scale(0.752,1)" font-size="27.9">7g</text><text transform="translate(65.62,-12.60) scale(0.739,1)" font-size="16.4">3</text><text transform="translate(74.34,0.00) scale(0.684,1)" font-size="27.9">G</text><text transform="translate(94.09,0.00) scale(0.675,1)" font-size="27.9">-</text><text transform="translate(107.69,0.00) scale(0.800,1)" font-size="27.9">4f</text><text transform="translate(129.40,-12.60) scale(0.769,1)" font-size="16.4">3</text><text transform="translate(139.26,0.00) scale(0.699,1)" font-size="27.9">F</text></g>
<g transform="translate(430.00,698.60) rotate(-90)"><text transform="translate(-0.54,0.00) scale(0.704,1)" font-size="27.9">He</text><text transform="translate(27.29,0.00) scale(0.724,1)" font-size="27.9">I</text><text transform="translate(38.84,0.00) scale(0.752,1)" font-size="27.9">7g</text><text transform="translate(66.30,-12.60) scale(0.600,1)" font-size="16.4">1</text><text transform="translate(74.34,0.00) scale(0.684,1)" font-size="27.9">G</text><text transform="translate(94.09,0.00) scale(0.675,1)" font-size="27.9">-</text><text transform="translate(107.69,0.00) scale(0.800,1)" font-size="27.9">4f</text><text transform="translate(130.20,-12.60) scale(0.600,1)" font-size="16.4">1</text><text transform="translate(139.26,0.00) scale(0.699,1)" font-size="27.9">F</text></g>
<g transform="translate(457.40,698.60) rotate(-90)"><text transform="translate(65.99,0.00) scale(0.662,1)" font-size="27.9">He</text><text transform="translate(92.95,0.00) scale(0.771,1)" font-size="27.9">II</text><text transform="translate(112.58,0.00) scale(0.747,1)" font-size="27.9">14-8</text></g>
<g transform="translate(485.90,698.60) rotate(-90)"><text transform="translate(-0.54,0.00) scale(0.704,1)" font-size="27.9">He</text><text transform="translate(27.29,0.00) scale(0.724,1)" font-size="27.9">I</text><text transform="translate(38.85,0.00) scale(0.746,1)" font-size="27.9">7d</text><text transform="translate(66.30,-12.60) scale(0.600,1)" font-size="16.4">1</text><text transform="translate(74.58,0.00) scale(0.679,1)" font-size="27.9">D</text><text transform="translate(94.09,0.00) scale(0.675,1)" font-size="27.9">-</text><text transform="translate(107.69,0.00) scale(0.800,1)" font-size="27.9">4f</text><text transform="translate(130.20,-12.60) scale(0.600,1)" font-size="16.4">1</text><text transform="translate(139.26,0.00) scale(0.699,1)" font-size="27.9">F</text></g>
<g transform="translate(512.90,698.60) rotate(-90)"><text transform="translate(-0.54,0.00) scale(0.704,1)" font-size="27.9">He</text><text transform="translate(27.29,0.00) scale(0.724,1)" font-size="27.9">I</text><text transform="translate(38.85,0.00) scale(0.746,1)" font-size="27.9">7d</text><text transform="translate(65.80,-12.60) scale(0.769,1)" font-size="16.4">3</text><text transform="translate(74.58,0.00) scale(0.679,1)" font-size="27.9">D</text><text transform="translate(94.09,0.00) scale(0.675,1)" font-size="27.9">-</text><text transform="translate(107.69,0.00) scale(0.800,1)" font-size="27.9">4f</text><text transform="translate(130.22,-12.60) scale(0.739,1)" font-size="16.4">3</text><text transform="translate(139.26,0.00) scale(0.699,1)" font-size="27.9">F</text></g>
<g transform="translate(540.60,698.60) rotate(-90)"><text transform="translate(45.29,0.00) scale(0.663,1)" font-size="27.9">H</text><text transform="translate(63.47,0.00) scale(0.751,1)" font-size="27.9">I</text><text transform="translate(73.86,0.00) scale(0.796,1)" font-size="27.9">7-4</text><text transform="translate(110.00,0.00) scale(0.749,1)" font-size="27.9">/</text><text transform="translate(121.63,0.00) scale(0.746,1)" font-size="27.9">Brγ</text></g>
</svg></body></html>
